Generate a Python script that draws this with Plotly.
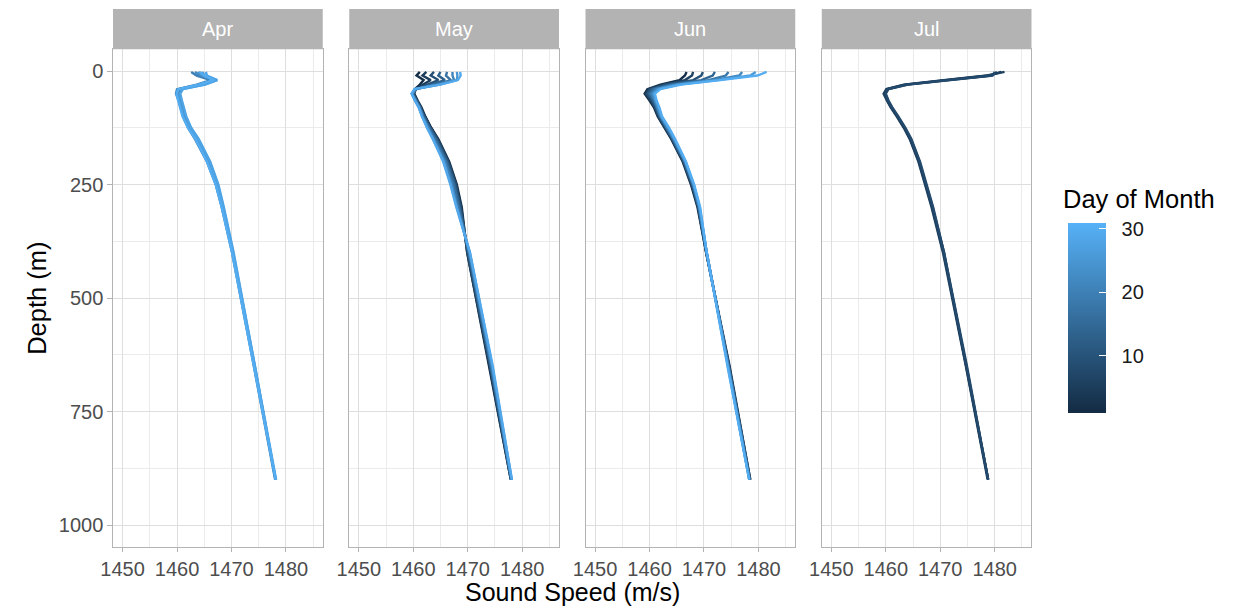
import plotly.graph_objects as go
from plotly.colors import sample_colorscale

# ---------------- data ----------------
MONTHS = ["Apr", "May", "Jun", "Jul"]
DEPTH = [2, 10, 20, 30, 40, 50, 65, 80, 100, 125, 150, 200, 250, 300, 400, 650, 900]

APR_DAYS = [20, 22, 24, 26, 28, 30]
APR_SPEED = [
    [1462.6, 1463.6, 1466.2, 1463.6, 1460.0, 1459.8, 1460.3, 1460.7, 1461.1, 1462.0, 1463.3, 1465.5, 1467.1, 1468.2, 1470.1, 1474.1, 1478.0],
    [1463.3, 1464.3, 1466.8, 1464.3, 1460.5, 1460.1, 1460.5, 1460.9, 1461.3, 1462.2, 1463.6, 1465.7, 1467.3, 1468.4, 1470.2, 1474.2, 1478.1],
    [1464.6, 1465.1, 1467.3, 1464.9, 1460.9, 1460.4, 1460.8, 1461.2, 1461.6, 1462.5, 1463.9, 1466.0, 1467.5, 1468.5, 1470.3, 1474.3, 1478.1],
    [1463.9, 1464.7, 1467.0, 1464.1, 1460.3, 1460.0, 1460.4, 1460.8, 1461.2, 1462.1, 1463.5, 1465.6, 1467.2, 1468.3, 1470.2, 1474.2, 1478.1],
    [1465.3, 1465.5, 1467.4, 1465.2, 1461.1, 1460.6, 1460.9, 1461.3, 1461.7, 1462.6, 1464.0, 1466.1, 1467.6, 1468.6, 1470.4, 1474.3, 1478.2],
    [1464.2, 1465.0, 1466.7, 1463.9, 1460.2, 1459.9, 1460.2, 1460.6, 1461.0, 1462.0, 1463.4, 1465.5, 1467.1, 1468.2, 1470.1, 1474.1, 1478.1],
]

MAY_DAYS = [2, 5, 9, 13, 17, 21, 25, 29]
MAY_SPEED = [
    [1461.2, 1460.6, 1461.9, 1461.2, 1460.3, 1460.2, 1460.8, 1461.5, 1462.2, 1463.3, 1464.6, 1466.6, 1468.0, 1468.9, 1469.9, 1473.9, 1477.9],
    [1462.4, 1461.7, 1463.2, 1461.8, 1460.4, 1460.1, 1460.7, 1461.4, 1462.1, 1463.2, 1464.5, 1466.5, 1467.9, 1468.8, 1469.9, 1474.0, 1477.9],
    [1463.8, 1463.2, 1464.6, 1462.6, 1460.5, 1460.0, 1460.6, 1461.3, 1462.0, 1463.1, 1464.4, 1466.4, 1467.8, 1468.7, 1470.0, 1474.1, 1478.0],
    [1465.0, 1464.6, 1465.8, 1463.4, 1460.6, 1459.9, 1460.6, 1461.3, 1461.9, 1463.0, 1464.2, 1466.2, 1467.6, 1468.5, 1470.1, 1474.2, 1478.0],
    [1466.2, 1466.0, 1466.9, 1464.0, 1460.5, 1459.8, 1460.5, 1461.2, 1461.8, 1462.8, 1464.0, 1466.0, 1467.4, 1468.3, 1470.2, 1474.3, 1478.0],
    [1467.2, 1467.2, 1467.5, 1464.5, 1460.4, 1459.8, 1460.4, 1461.1, 1461.7, 1462.7, 1463.8, 1465.8, 1467.1, 1468.1, 1470.3, 1474.4, 1478.0],
    [1468.0, 1468.1, 1468.0, 1464.8, 1460.3, 1459.7, 1460.3, 1461.0, 1461.6, 1462.6, 1463.7, 1465.6, 1466.9, 1468.0, 1470.4, 1474.5, 1478.1],
    [1468.6, 1468.7, 1468.2, 1465.0, 1460.2, 1459.7, 1460.3, 1461.0, 1461.6, 1462.5, 1463.6, 1465.5, 1466.8, 1467.9, 1470.4, 1474.6, 1478.1],
]

JUN_DAYS = [2, 6, 10, 14, 18, 22, 26, 30]
JUN_SPEED = [
    [1466.8, 1466.5, 1465.5, 1462.0, 1459.6, 1459.1, 1460.0, 1460.8, 1461.5, 1462.7, 1464.0, 1466.1, 1467.6, 1468.8, 1470.4, 1474.7, 1478.5],
    [1468.0, 1467.8, 1466.5, 1462.5, 1459.8, 1459.3, 1460.2, 1461.0, 1461.6, 1462.8, 1464.1, 1466.2, 1467.7, 1468.9, 1470.4, 1474.6, 1478.5],
    [1469.8, 1469.5, 1468.0, 1463.0, 1460.2, 1459.6, 1460.5, 1461.1, 1461.8, 1463.0, 1464.2, 1466.3, 1467.8, 1469.0, 1470.4, 1474.6, 1478.4],
    [1472.0, 1471.6, 1469.5, 1463.8, 1460.6, 1459.9, 1460.7, 1461.3, 1461.9, 1463.1, 1464.3, 1466.4, 1467.9, 1469.0, 1470.5, 1474.5, 1478.4],
    [1474.5, 1474.0, 1470.8, 1464.3, 1461.0, 1460.2, 1460.9, 1461.4, 1462.0, 1463.2, 1464.4, 1466.5, 1468.0, 1469.1, 1470.5, 1474.5, 1478.4],
    [1477.0, 1476.5, 1471.8, 1464.8, 1461.3, 1460.5, 1461.0, 1461.5, 1462.1, 1463.3, 1464.5, 1466.6, 1468.1, 1469.2, 1470.5, 1474.4, 1478.3],
    [1479.5, 1478.5, 1472.5, 1465.3, 1461.7, 1460.8, 1461.2, 1461.7, 1462.2, 1463.5, 1464.6, 1466.6, 1468.1, 1469.2, 1470.5, 1474.4, 1478.3],
    [1481.5, 1479.8, 1473.0, 1465.8, 1462.0, 1461.0, 1461.3, 1461.8, 1462.3, 1463.6, 1464.7, 1466.7, 1468.2, 1469.3, 1470.5, 1474.3, 1478.3],
]

JUL_DAYS = [2, 4, 6, 8]
JUL_SPEED = [
    [1481.2, 1479.0, 1471.0, 1463.6, 1460.3, 1459.8, 1460.3, 1461.0, 1462.1, 1463.4, 1464.5, 1466.1, 1467.3, 1468.5, 1470.6, 1474.8, 1478.8],
    [1480.4, 1479.3, 1471.5, 1463.9, 1460.4, 1459.9, 1460.4, 1461.1, 1462.2, 1463.5, 1464.6, 1466.2, 1467.4, 1468.6, 1470.7, 1474.8, 1478.8],
    [1481.8, 1478.6, 1470.6, 1463.3, 1460.1, 1459.6, 1460.2, 1460.9, 1462.0, 1463.3, 1464.4, 1466.0, 1467.2, 1468.4, 1470.5, 1474.7, 1478.7],
    [1480.0, 1479.6, 1471.8, 1464.1, 1460.5, 1460.0, 1460.5, 1461.2, 1462.3, 1463.6, 1464.7, 1466.3, 1467.5, 1468.7, 1470.7, 1474.9, 1478.8],
]

X_TICKS = [1450, 1460, 1470, 1480]
X_MINOR = [1455, 1465, 1475, 1485]
Y_TICKS = [0, 250, 500, 750, 1000]
Y_MINOR = [125, 375, 625, 875]
LEGEND_TICKS = [10, 20, 30]
DAY_MIN, DAY_MAX = 1, 31

# ---------------- styling ----------------
PAGE_W, PAGE_H = 1234, 614
OFF = 8  # default body margin of the html page
W, H = PAGE_W - 2 * OFF, PAGE_H - 2 * OFF
FONT = "Liberation Sans, Arial, sans-serif"
COLORSCALE = [[0, "#132B43"], [1, "#56B1F7"]]
PANEL_LEFT = [101.0, 339.8, 578.6, 817.4]
PANEL_W = 212.0
PANEL_TOP, PANEL_BOTTOM = 49.3, 546.7
STRIP_TOP = 9.0
GRID = "#DEDEDE"
BORDER = "#B3B3B3"


def day_color(d):
    return sample_colorscale(COLORSCALE, [(d - DAY_MIN) / (DAY_MAX - DAY_MIN)])[0]


def px_x(p):
    return (p - OFF) / W


def px_y(p):
    return 1 - (p - OFF) / H


fig = go.Figure()

month_data = [(APR_DAYS, APR_SPEED), (MAY_DAYS, MAY_SPEED), (JUN_DAYS, JUN_SPEED), (JUL_DAYS, JUL_SPEED)]
for i, (days, speeds) in enumerate(month_data):
    suffix = "" if i == 0 else str(i + 1)
    for d, sp in zip(days, speeds):
        fig.add_trace(go.Scatter(
            x=sp, y=DEPTH, mode="lines",
            line=dict(color=day_color(d), width=2.4),
            xaxis="x" + suffix, yaxis="y" + suffix,
            showlegend=False, hoverinfo="skip",
        ))

# colour bar carrier (points outside the visible range)
fig.add_trace(go.Scatter(
    x=[1400, 1400], y=[0, 0], mode="markers", xaxis="x4", yaxis="y4",
    cliponaxis=True, showlegend=False, hoverinfo="skip",
    marker=dict(
        color=[DAY_MIN, DAY_MAX], cmin=DAY_MIN, cmax=DAY_MAX, colorscale=COLORSCALE,
        showscale=True,
        colorbar=dict(
            thickness=38, thicknessmode="pixels", len=190, lenmode="pixels",
            x=px_x(1066.7), xanchor="left", y=px_y(317.5), yanchor="middle",
            xpad=0, ypad=0, outlinewidth=0,
            tickmode="array", tickvals=LEGEND_TICKS,
            ticktext=["\u00a0\u00a0" + str(v) for v in LEGEND_TICKS],
            ticks="inside", ticklen=7, tickcolor="white", tickwidth=1,
            tickfont=dict(family=FONT, size=20, color="#1A1A1A"),
        ),
    ),
))

layout = dict(
    width=W, height=H, margin=dict(l=0, r=0, t=0, b=0),
    paper_bgcolor="white", plot_bgcolor="white",
    font=dict(family=FONT, color="#4D4D4D"),
    showlegend=False,
)

shapes = []
annotations = []
for i, m in enumerate(MONTHS):
    suffix = "" if i == 0 else str(i + 1)
    x0, x1 = PANEL_LEFT[i], PANEL_LEFT[i] + PANEL_W
    layout["xaxis" + suffix] = dict(
        domain=[px_x(x0), px_x(x1)], anchor="y" + suffix,
        range=[1448.25, 1486.75], autorange=False,
        tickmode="array", tickvals=X_TICKS,
        ticks="outside", ticklen=4.5, tickwidth=1, tickcolor=BORDER,
        tickfont=dict(family=FONT, size=20, color="#4D4D4D"),
        showgrid=True, gridcolor=GRID, gridwidth=1.1,
        minor=dict(tickmode="array", tickvals=X_MINOR, showgrid=True, gridcolor="#EBEBEB", gridwidth=0.7, ticks=""),
        showline=True, linecolor=BORDER, linewidth=1.3, mirror=True, zeroline=False,
    )
    layout["yaxis" + suffix] = dict(
        domain=[px_y(PANEL_BOTTOM), px_y(PANEL_TOP)], anchor="x" + suffix,
        range=[1047.8, -47.8], autorange=False,
        tickmode="array", tickvals=Y_TICKS,
        ticks="outside" if i == 0 else "", ticklen=4.5, tickwidth=1, tickcolor=BORDER,
        showticklabels=(i == 0),
        tickfont=dict(family=FONT, size=20, color="#4D4D4D"),
        showgrid=True, gridcolor=GRID, gridwidth=1.1,
        minor=dict(tickmode="array", tickvals=Y_MINOR, showgrid=True, gridcolor="#EBEBEB", gridwidth=0.7, ticks=""),
        showline=True, linecolor=BORDER, linewidth=1.3, mirror=True, zeroline=False,
    )
    # facet strip
    shapes.append(dict(
        type="rect", xref="paper", yref="paper",
        x0=px_x(x0), x1=px_x(x1), y0=px_y(PANEL_TOP), y1=px_y(STRIP_TOP),
        fillcolor=BORDER, line=dict(width=0), layer="above",
    ))
    annotations.append(dict(
        text=m, xref="paper", yref="paper", x=px_x((x0 + x1) / 2), y=px_y((STRIP_TOP + PANEL_TOP) / 2),
        xanchor="center", yanchor="middle", showarrow=False,
        font=dict(family=FONT, size=20, color="white"),
    ))

annotations.append(dict(
    text="Sound Speed (m/s)", xref="paper", yref="paper",
    x=px_x((PANEL_LEFT[0] + PANEL_LEFT[3] + PANEL_W) / 2), y=px_y(591.5),
    xanchor="center", yanchor="middle", showarrow=False,
    font=dict(family=FONT, size=25, color="black"),
))
annotations.append(dict(
    text="Depth (m)", xref="paper", yref="paper",
    x=px_x(24), y=px_y((PANEL_TOP + PANEL_BOTTOM) / 2),
    xanchor="center", yanchor="middle", showarrow=False, textangle=-90,
    font=dict(family=FONT, size=25.5, color="black"),
))
annotations.append(dict(
    text="Day of Month", xref="paper", yref="paper",
    x=px_x(1059), y=px_y(199),
    xanchor="left", yanchor="middle", showarrow=False,
    font=dict(family=FONT, size=25.5, color="black"),
))

layout["shapes"] = shapes
layout["annotations"] = annotations
fig.update_layout(**layout)

fig.write_html("out.html")
